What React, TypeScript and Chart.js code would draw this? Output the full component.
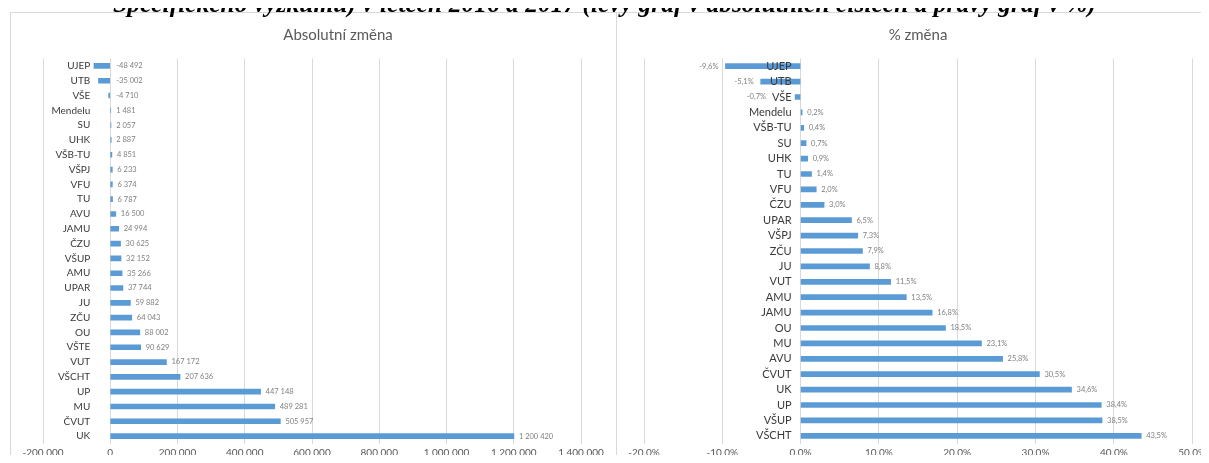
import React, { useEffect, useRef } from "react";
import { Chart, registerables } from "chart.js";

Chart.register(...registerables);

const pageTitle =
  "Specifického výzkumu) v letech 2016 a 2017 (levý graf v absolutních číslech a pravý graf v %)";

const absTitle = "Absolutní změna";
const absCategories = [
  "UJEP", "UTB", "VŠE", "Mendelu", "SU", "UHK", "VŠB-TU", "VŠPJ", "VFU", "TU",
  "AVU", "JAMU", "ČZU", "VŠUP", "AMU", "UPAR", "JU", "ZČU", "OU", "VŠTE",
  "VUT", "VŠCHT", "UP", "MU", "ČVUT", "UK",
];
const absValues = [
  -48492, -35002, -4710, 1481, 2057, 2887, 4851, 6233, 6374, 6787,
  16500, 24994, 30625, 32152, 35266, 37744, 59882, 64043, 88002, 90629,
  167172, 207636, 447148, 489281, 505957, 1200420,
];
const absTickValues = [-200000, 0, 200000, 400000, 600000, 800000, 1000000, 1200000, 1400000];

const pctTitle = "% změna";
const pctCategories = [
  "UJEP", "UTB", "VŠE", "Mendelu", "VŠB-TU", "SU", "UHK", "TU", "VFU", "ČZU",
  "UPAR", "VŠPJ", "ZČU", "JU", "VUT", "AMU", "JAMU", "OU", "MU", "AVU",
  "ČVUT", "UK", "UP", "VŠUP", "VŠCHT",
];
const pctValues = [
  -9.6, -5.1, -0.7, 0.2, 0.4, 0.7, 0.9, 1.4, 2.0, 3.0,
  6.5, 7.3, 7.9, 8.8, 11.5, 13.5, 16.8, 18.5, 23.1, 25.8,
  30.5, 34.6, 38.4, 38.5, 43.5,
];
const pctTickValues = [-20, -10, 0, 10, 20, 30, 40, 50];

const BAR = "#5B9BD5";
const GRID = "#d9d9d9";
const FONT = "Lato, 'Open Sans', sans-serif";

function spaced(v: number): string {
  const s = Math.abs(Math.round(v)).toString().replace(/\B(?=(\d{3})+(?!\d))/g, " ");
  return (v < 0 ? "-" : "") + s;
}

type ChartSpec = {
  title: string;
  titleX: number;
  titleY: number;
  categories: string[];
  values: number[];
  ticks: number[];
  tickFmt: (v: number) => string;
  labelFmt: (v: number) => string;
  catGap: number;
  catSize: number;
  negLabelOutside: boolean;
  width: number;
  height: number;
  padLeft: number;
  padRight: number;
};

function BarPanel({ spec, left, top }: { spec: ChartSpec; left: number; top: number }) {
  const ref = useRef<HTMLCanvasElement | null>(null);
  useEffect(() => {
    if (!ref.current) return;
    const s = spec;
    const labelPlugin = {
      id: "customLabels",
      afterDatasetsDraw(chart: any) {
        const ctx = chart.ctx as CanvasRenderingContext2D;
        const xs = chart.scales.x;
        const zero = xs.getPixelForValue(0);
        const meta = chart.getDatasetMeta(0);
        ctx.save();
        ctx.font = `15px ${FONT}`;
        ctx.fillStyle = "#595959";
        ctx.textAlign = "center";
        ctx.textBaseline = "middle";
        ctx.fillText(s.title, s.titleX, s.titleY);
        meta.data.forEach((bar: any, i: number) => {
          const v = s.values[i];
          const yc = bar.y;
          ctx.font = `${s.catSize}px ${FONT}`;
          ctx.fillStyle = "#3a3a3a";
          ctx.textAlign = "right";
          ctx.textBaseline = "middle";
          const catRight = zero - s.catGap;
          const catLeft = catRight - ctx.measureText(s.categories[i]).width;
          ctx.fillText(s.categories[i], catRight, yc);
          const end = xs.getPixelForValue(v);
          ctx.font = `7.5px ${FONT}`;
          ctx.fillStyle = "#7f7f7f";
          if (v < 0 && s.negLabelOutside) {
            ctx.textAlign = "right";
            ctx.fillText(s.labelFmt(v), Math.min(end - 7, catLeft - 6), yc);
          } else {
            ctx.textAlign = "left";
            ctx.fillText(s.labelFmt(v), Math.max(end, zero + 1) + 5, yc);
          }
        });
        ctx.restore();
      },
    };
    const chart = new Chart(ref.current, {
      type: "bar",
      data: {
        labels: s.categories,
        datasets: [
          {
            data: s.values,
            backgroundColor: BAR,
            borderWidth: 0,
            barThickness: 5,
          },
        ],
      },
      options: {
        indexAxis: "y",
        animation: false,
        responsive: false,
        devicePixelRatio: 1,
        layout: {
          padding: { left: s.padLeft, right: s.padRight, top: 46.5, bottom: s.height - 431.5 - 20 },
        },
        plugins: {
          legend: { display: false },
          title: { display: false },
          tooltip: { enabled: false },
        },
        scales: {
          x: {
            type: "linear",
            min: s.ticks[0],
            max: s.ticks[s.ticks.length - 1],
            afterBuildTicks: (scale: any) => {
              scale.ticks = s.ticks.map((v) => ({ value: v }));
            },
            afterFit: (scale: any) => {
              scale.height = 20;
            },
            grid: { color: GRID, lineWidth: 1, drawTicks: false },
            border: { display: false },
            ticks: {
              padding: 3,
              color: "#595959",
              font: { family: FONT, size: 10 },
              callback: (v: any) => s.tickFmt(Number(v)),
            },
          },
          y: {
            display: false,
          },
        },
      },
      plugins: [labelPlugin],
    } as any);
    return () => chart.destroy();
  }, [spec]);
  return (
    <canvas
      ref={ref}
      width={spec.width}
      height={spec.height}
      style={{ position: "absolute", left, top, width: spec.width, height: spec.height }}
    />
  );
}

const absSpec: ChartSpec = {
  title: absTitle,
  titleX: 328,
  titleY: 23,
  categories: absCategories,
  values: absValues,
  ticks: absTickValues,
  tickFmt: spaced,
  labelFmt: spaced,
  catGap: 20,
  catSize: 10,
  negLabelOutside: false,
  width: 604,
  height: 460,
  padLeft: 33,
  padRight: 33,
};

const pctSpec: ChartSpec = {
  title: pctTitle,
  titleX: 301,
  titleY: 23,
  categories: pctCategories,
  values: pctValues,
  ticks: pctTickValues,
  tickFmt: (v) => v.toFixed(1) + "%",
  labelFmt: (v) => v.toFixed(1).replace(".", ",") + "%",
  catGap: 9,
  catSize: 11,
  negLabelOutside: true,
  width: 592,
  height: 460,
  padLeft: 27,
  padRight: 16,
};

export default function App() {
  return (
    <div
      style={{
        position: "relative",
        width: 1209,
        height: 463,
        overflow: "hidden",
        background: "#fff",
        margin: -8,
      }}
    >
      <div
        style={{
          position: "absolute",
          left: 10,
          top: 12,
          width: 1220,
          height: 480,
          borderTop: `1px solid ${GRID}`,
          borderLeft: `1px solid ${GRID}`,
        }}
      />
      <div
        style={{
          position: "absolute",
          left: 616,
          top: 12,
          width: 0,
          height: 480,
          borderLeft: `1px solid ${GRID}`,
        }}
      />
      <BarPanel spec={absSpec} left={10} top={12} />
      <BarPanel spec={pctSpec} left={617} top={12} />
      <div
        style={{
          position: "absolute",
          left: 0,
          width: 1209,
          top: -9,
          textAlign: "center",
          fontFamily: "'Liberation Serif', 'Times New Roman', serif",
          fontWeight: "bold",
          fontStyle: "italic",
          fontSize: 25.5,
          lineHeight: "26px",
          whiteSpace: "nowrap",
          color: "#000",
        }}
      >
        {pageTitle}
      </div>
    </div>
  );
}
